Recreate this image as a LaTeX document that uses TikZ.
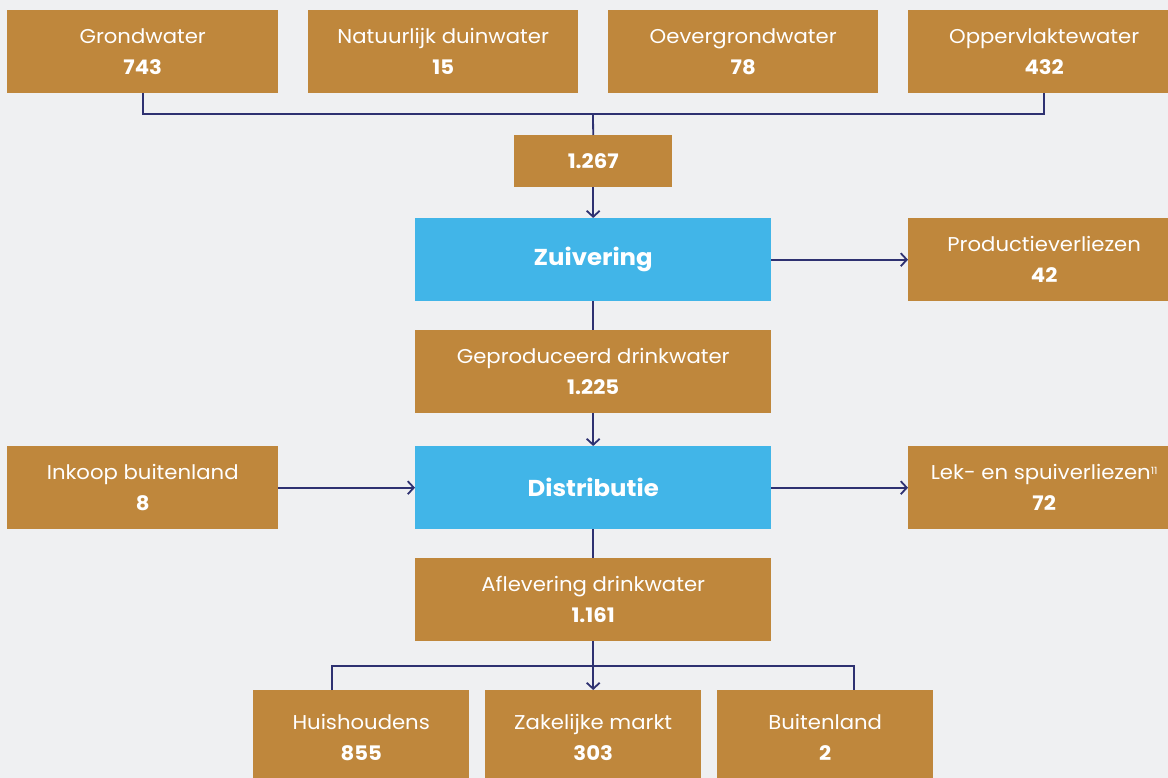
\documentclass[tikz,border=0pt]{standalone}
\usepackage{fontspec}
\setmainfont{Poppins}[FakeStretch=1.06]
\usetikzlibrary{arrows.meta}
\definecolor{gold}{HTML}{BF873C}
\definecolor{sky}{HTML}{41B5E8}
\definecolor{bg}{HTML}{EFF0F2}
\definecolor{navy}{HTML}{2E3171}
\begin{document}
\begin{tikzpicture}[x=1pt,y=-1pt,
  box/.style={fill=gold,text=white,inner sep=0pt,anchor=north west,align=center,
    font=\fontsize{20}{31}\selectfont},
  bluebox/.style={fill=sky,text=white,inner sep=0pt,anchor=north west,align=center,
    font=\fontsize{23}{26}\selectfont\bfseries},
  conn/.style={draw=navy,line width=1.8pt},
  arr/.style={conn,-{Straight Barb[length=6pt,width=13pt,line width=1.8pt]}}]
\useasboundingbox (0,0) rectangle (1168,778);
\fill[bg] (0,0) rectangle (1168,778);
% top row
\node[box,minimum width=271,minimum height=83] (gw) at (7,10) {Grondwater\\\textbf{743}};
\node[box,minimum width=270,minimum height=83] (nd) at (308,10) {Natuurlijk duinwater\\\textbf{15}};
\node[box,minimum width=270,minimum height=83] (og) at (608,10) {Oevergrondwater\\\textbf{78}};
\node[box,minimum width=272,minimum height=83] (ow) at (908,10) {Oppervlaktewater\\\textbf{432}};
\node[box,minimum width=158,minimum height=52] (tot) at (514,135) {\textbf{1.267}};
\node[bluebox,minimum width=356,minimum height=83] (zui) at (415,218) {Zuivering};
\node[box,minimum width=272,minimum height=83] (pv) at (908,218) {Productieverliezen\\\textbf{42}};
\node[box,minimum width=356,minimum height=83] (gd) at (415,330) {Geproduceerd drinkwater\\\textbf{1.225}};
\node[bluebox,minimum width=356,minimum height=83] (dis) at (415,446) {Distributie};
\node[box,minimum width=271,minimum height=83] (ink) at (7,446) {Inkoop buitenland\\\textbf{8}};
\node[box,minimum width=272,minimum height=83] (lek) at (908,446) {Lek- en spuiverliezen\raisebox{5pt}{\fontsize{10}{10}\selectfont 11}\\\textbf{72}};
\node[box,minimum width=356,minimum height=83] (afl) at (415,558) {Aflevering drinkwater\\\textbf{1.161}};
\node[box,minimum width=216,minimum height=95] (hh) at (253,690) {Huishoudens\\\textbf{855}};
\node[box,minimum width=216,minimum height=95] (zm) at (485,690) {Zakelijke markt\\\textbf{303}};
\node[box,minimum width=216,minimum height=95] (bl) at (717,690) {Buitenland\\\textbf{2}};
% connectors
\coordinate (bus1) at (593,114);
\coordinate (bus2) at (593,666);
\draw[conn] (gw.south west) ++(136,0) |- (bus1) -| (ow.south);
\draw[conn] (bus1) -- (tot.north);
\draw[arr] (tot.south) -- (zui.north);
\draw[arr] (zui.east) -- (pv.west);
\draw[conn] (zui.south) -- (gd.north);
\draw[arr] (gd.south) -- (dis.north);
\draw[arr] (ink.east) -- (dis.west);
\draw[arr] (dis.east) -- (lek.west);
\draw[conn] (dis.south) -- (afl.north);
\draw[conn] ([xshift=-29pt]hh.north) |- (bus2) -| ([xshift=29pt]bl.north);
\draw[arr] (afl.south) -- (zm.north);
\end{tikzpicture}
\end{document}
